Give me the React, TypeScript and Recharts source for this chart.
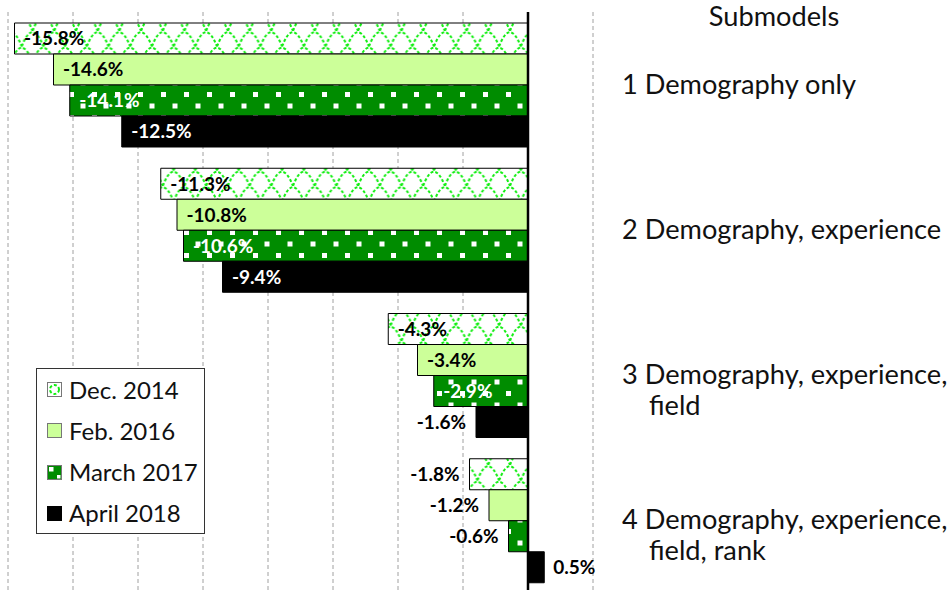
import {
  Bar,
  BarChart,
  CartesianGrid,
  LabelList,
  Legend,
  ReferenceLine,
  XAxis,
  YAxis,
} from 'recharts';

const categories = [
  '1 Demography only',
  '2 Demography, experience',
  '3 Demography, experience,\nfield',
  '4 Demography, experience,\nfield, rank',
];
const dec2014 = [-15.8, -11.3, -4.3, -1.8];
const feb2016 = [-14.6, -10.8, -3.4, -1.2];
const march2017 = [-14.1, -10.6, -2.9, -0.6];
const april2018 = [-12.5, -9.4, -1.6, 0.5];
const seriesNames = ['Dec. 2014', 'Feb. 2016', 'March 2017', 'April 2018'];
const xTicks = [-16, -14, -12, -10, -8, -6, -4, -2, 0, 2];
const axisTitle = 'Submodels';

const data = categories.map((name, i) => ({
  name,
  dec: dec2014[i],
  feb: feb2016[i],
  mar: march2017[i],
  apr: april2018[i],
}));

const FONT = 'Lato, "Noto Sans", sans-serif';
const GREEN = '#008c00';

// series look: fill + label colour when the label sits inside the bar
const series = [
  { key: 'dec', fill: 'url(#pat-dec)', inside: '#000', icon: 'dec' },
  { key: 'feb', fill: '#ccff99', inside: '#000', icon: 'feb' },
  { key: 'mar', fill: 'url(#pat-mar)', inside: '#fff', icon: 'mar' },
  { key: 'apr', fill: '#000', inside: '#fff', icon: 'apr' },
];

function Patterns() {
  return (
    <svg width={0} height={0} style={{ position: 'absolute' }}>
      <defs>
        {/* scale-like wave, two offset rows */}
        <pattern id="pat-dec" patternUnits="userSpaceOnUse" width={21.7} height={31}>
          <rect width={21.7} height={31} fill="#fff" />
          <path
            d="M0 15.5 Q10.85 -13 21.7 15.5 M-10.85 31 Q0 2.5 10.85 31 M10.85 31 Q21.7 2.5 32.55 31"
            fill="none"
            stroke="#11ee11"
            strokeWidth={2}
            strokeDasharray="3 2"
          />
        </pattern>
        <pattern id="pat-mar" patternUnits="userSpaceOnUse" width={23} height={23}>
          <rect width={23} height={23} fill={GREEN} />
          <rect x={0} y={0} width={5} height={5} fill="#fff" />
          <rect x={11.5} y={11.5} width={5} height={5} fill="#fff" />
        </pattern>
      </defs>
    </svg>
  );
}

const makeLabel = (insideColor: string) => (props: any) => {
  const { x, y, width, height, value } = props;
  if (value == null) return null;
  const text = `${Number(value).toFixed(1)}%`;
  const left = Math.min(x, x + width);
  const right = Math.max(x, x + width);
  const w = right - left;
  const cy = y + height / 2;
  const textW = text.length * 9.5;
  let tx = left + 9.5;
  let anchor: 'start' | 'end' = 'start';
  let fill = insideColor;
  if (w < textW + 20) {
    fill = '#000';
    if (value < 0) {
      tx = left - 10;
      anchor = 'end';
    } else {
      tx = right + 9;
    }
  }
  return (
    <text
      x={tx}
      y={cy}
      dy="0.36em"
      textAnchor={anchor}
      fontFamily={FONT}
      fontWeight={700}
      fontSize={19}
      fill={fill}
    >
      {text}
    </text>
  );
};

function CategoryTick(props: any) {
  const { x, y, payload } = props;
  const lines = String(payload.value).split('\n');
  return (
    <text fontFamily={FONT} fontSize={27.2} fill="#111">
      {lines.map((line, i) => (
        <tspan key={i} x={x + (i ? 27 : 0)} y={y + 9 + i * 31}>
          {line}
        </tspan>
      ))}
    </text>
  );
}

function LegendIcon({ kind }: { kind: string }) {
  return (
    <svg width={15} height={15} style={{ display: 'block' }}>
      {kind === 'dec' && (
        <>
          <rect x={0.5} y={0.5} width={14} height={14} fill="#fff" stroke="#777" />
          <circle cx={7.5} cy={7.5} r={4.5} fill="none" stroke="#11ee11" strokeWidth={2} strokeDasharray="3 2" />
        </>
      )}
      {kind === 'feb' && <rect x={0.5} y={0.5} width={14} height={14} fill="#ccff99" stroke="#777" />}
      {kind === 'mar' && (
        <>
          <rect x={0.5} y={0.5} width={14} height={14} fill={GREEN} stroke="#777" />
          <rect x={2} y={2} width={4.5} height={4.5} fill="#fff" />
          <rect x={10} y={10} width={3.5} height={3.5} fill="#fff" />
        </>
      )}
      {kind === 'apr' && <rect x={0.5} y={0.5} width={14} height={14} fill="#000" stroke="#000" />}
    </svg>
  );
}

function LegendBox() {
  return (
    <div
      style={{
        border: '1px solid #333',
        background: '#fff',
        width: 169,
        height: 166,
        boxSizing: 'border-box',
        fontFamily: FONT,
        fontSize: 24,
        color: '#111',
      }}
    >
      {seriesNames.map((name, i) => (
        <div
          key={name}
          style={{ display: 'flex', alignItems: 'center', height: 41.25, paddingLeft: 10 }}
        >
          <LegendIcon kind={series[i].icon} />
          <span style={{ marginLeft: 7, lineHeight: 1 }}>{name}</span>
        </div>
      ))}
    </div>
  );
}

export default function App() {
  return (
    <div
      style={{
        position: 'fixed',
        left: 0,
        top: 0,
        width: 951,
        height: 590,
        overflow: 'hidden',
        background: '#fff',
      }}
    >
      <Patterns />
      <BarChart
        width={951}
        height={593}
        layout="vertical"
        data={data}
        margin={{ top: 12, right: 0, bottom: 0, left: 8 }}
        barCategoryGap={11}
        barGap={0}
      >
        <CartesianGrid horizontal={false} stroke="#a0a0a0" strokeDasharray="4 3" />
        <XAxis type="number" domain={[-16, 2]} ticks={xTicks} hide allowDataOverflow />
        <YAxis
          type="category"
          dataKey="name"
          orientation="right"
          width={358}
          axisLine={false}
          tickLine={false}
          tickSize={0}
          tickMargin={29}
          interval={0}
          tick={<CategoryTick />}
          label={{
            content: (p: any) => {
              const vb = p.viewBox;
              return (
                <text
                  x={vb.x + vb.width / 2 + 2}
                  y={vb.y + 14}
                  textAnchor="middle"
                  fontFamily={FONT}
                  fontSize={27.2}
                  fill="#111"
                >
                  {axisTitle}
                </text>
              );
            },
          }}
        />
        <Legend
          layout="horizontal"
          verticalAlign="middle"
          align="center"
          content={() => <LegendBox />}
          wrapperStyle={{ left: 36, top: 368, width: 169, height: 166 }}
        />
        {series.map((s) => (
          <Bar
            key={s.key}
            dataKey={s.key}
            fill={s.fill}
            stroke="#000"
            strokeWidth={1}
            isAnimationActive={false}
          >
            <LabelList dataKey={s.key} content={makeLabel(s.inside)} />
          </Bar>
        ))}
        <ReferenceLine x={0} stroke="#000" strokeWidth={2.5} />
      </BarChart>
    </div>
  );
}
